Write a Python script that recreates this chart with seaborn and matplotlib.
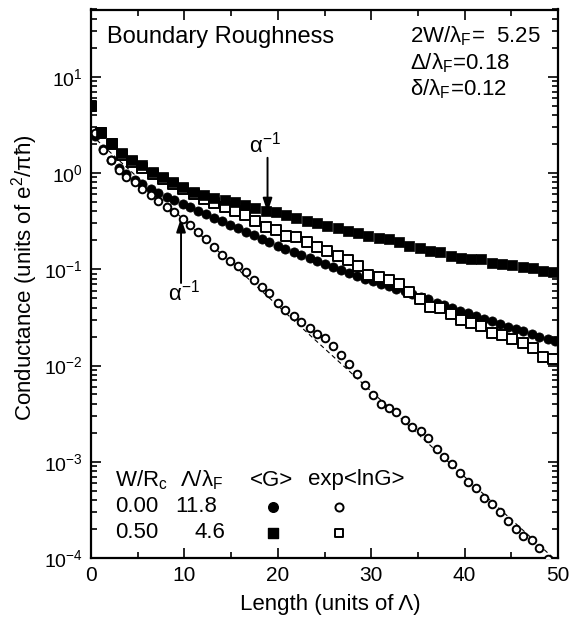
import numpy as np
import pandas as pd
import matplotlib
matplotlib.use("Agg")
import matplotlib.pyplot as plt
import seaborn as sns
from matplotlib.ticker import LogLocator, MultipleLocator, NullFormatter

# ---------------- data ----------------
L_circ = [0.4, 1.3, 2.1, 3.0, 3.8, 4.7, 5.5, 6.4, 7.2, 8.1, 8.9, 9.8, 10.6, 11.5,
          12.3, 13.2, 14.0, 14.9, 15.7, 16.6, 17.4, 18.3, 19.1, 20.0, 20.8, 21.7,
          22.5, 23.4, 24.2, 25.1, 25.9, 26.8, 27.6, 28.5, 29.3, 30.2, 31.0, 31.9,
          32.7, 33.6, 34.4, 35.3, 36.1, 37.0, 37.8, 38.7, 39.5, 40.4, 41.2, 42.1,
          42.9, 43.8, 44.6, 45.5, 46.3, 47.2, 48.0, 48.9, 49.7]

G_mean_w0 = [2.45, 1.78, 1.38, 1.12, 0.97, 0.85, 0.76, 0.68, 0.62, 0.57, 0.52, 0.475,
             0.44, 0.405, 0.375, 0.345, 0.315, 0.29, 0.268, 0.245, 0.225, 0.205, 0.19,
             0.173, 0.162, 0.151, 0.141, 0.131, 0.122, 0.114, 0.106, 0.099, 0.092,
             0.086, 0.080, 0.076, 0.070, 0.067, 0.062, 0.059, 0.055, 0.051, 0.049,
             0.045, 0.0428, 0.0398, 0.0372, 0.0350, 0.0330, 0.0307, 0.0290, 0.0270,
             0.0254, 0.0240, 0.0226, 0.0212, 0.0200, 0.0188, 0.0178]

G_log_w0 = [2.6, 1.75, 1.35, 1.08, 0.92, 0.81, 0.68, 0.59, 0.515, 0.445, 0.395, 0.335,
            0.285, 0.245, 0.205, 0.17, 0.142, 0.123, 0.108, 0.093, 0.078, 0.066, 0.056,
            0.045, 0.038, 0.0325, 0.0285, 0.0245, 0.0215, 0.0192, 0.0158, 0.013,
            0.0103, 0.0081, 0.0062, 0.0049, 0.0040, 0.0036, 0.0033, 0.0027, 0.0023,
            0.0021, 0.00175, 0.00135, 0.00112, 0.00094, 0.00077, 0.00062, 0.00054,
            0.00042, 0.00036, 0.00030, 0.000245, 0.00020, 0.00017, 0.000155,
            0.000128, 0.000098, 0.00008]

L_sq = [0.0, 1.1, 2.2, 3.3, 4.4, 5.5, 6.6, 7.7, 8.8, 9.9, 11.0, 12.1, 13.2, 14.3,
        15.4, 16.5, 17.6, 18.7, 19.8, 20.9, 22.0, 23.1, 24.2, 25.3, 26.4, 27.5,
        28.6, 29.7, 30.8, 31.9, 33.0, 34.1, 35.2, 36.3, 37.4, 38.5, 39.6, 40.7,
        41.8, 42.9, 44.0, 45.1, 46.2, 47.3, 48.4, 49.5]

G_mean_w05 = [5.0, 2.68, 2.06, 1.62, 1.37, 1.2, 1.03, 0.91, 0.81, 0.72, 0.64, 0.59,
              0.55, 0.525, 0.50, 0.47, 0.43, 0.40, 0.39, 0.368, 0.342, 0.318, 0.30,
              0.28, 0.27, 0.25, 0.24, 0.22, 0.21, 0.205, 0.193, 0.175, 0.166, 0.155,
              0.15, 0.138, 0.131, 0.128, 0.128, 0.117, 0.114, 0.112, 0.106, 0.103,
              0.096, 0.094]

G_log_w05 = [5.0, 2.6, 1.98, 1.55, 1.3, 1.12, 0.98, 0.87, 0.77, 0.68, 0.61, 0.54,
             0.49, 0.44, 0.40, 0.37, 0.32, 0.275, 0.257, 0.222, 0.217, 0.193, 0.171,
             0.155, 0.138, 0.126, 0.108, 0.087, 0.083, 0.078, 0.071, 0.058, 0.049,
             0.041, 0.040, 0.034, 0.0297, 0.0277, 0.0257, 0.0218, 0.0209, 0.019,
             0.0172, 0.0152, 0.0124, 0.0116]

fit_L = [0.0, 49.5]
fit_G = [2.5, 1.0e-4]

arrow_L = [18.9, 9.64]
arrow_tip = [0.39, 0.342]
arrow_tail = [1.44, 0.072]

# ---------------- style ----------------
sns.set_style("ticks")
plt.rcParams['font.family'] = ['Liberation Sans', 'DejaVu Sans']
plt.rcParams['mathtext.fontset'] = 'custom'
plt.rcParams['mathtext.rm'] = 'Liberation Sans'
plt.rcParams['mathtext.it'] = 'Liberation Sans:italic'
plt.rcParams['mathtext.bf'] = 'Liberation Sans:bold'
plt.rcParams['mathtext.default'] = 'regular'
for k in ['text.color', 'axes.labelcolor', 'xtick.color', 'ytick.color', 'axes.edgecolor']:
    plt.rcParams[k] = 'black'

fig = plt.figure(figsize=(5.81, 6.18), dpi=100)
ax = fig.add_axes([91/581, 1-558/618, (558-91)/581, (558-9.5)/618])

df_c = pd.DataFrame({"L": L_circ, "Gm": G_mean_w0, "Gl": G_log_w0})
df_s = pd.DataFrame({"L": L_sq, "Gm": G_mean_w05, "Gl": G_log_w05})

sns.lineplot(x=fit_L, y=fit_G, ax=ax, color='black', linewidth=0.8,
             linestyle=(0, (4, 3)), zorder=2)
sns.scatterplot(data=df_c, x="L", y="Gm", ax=ax, marker='o', s=44,
                color='black', edgecolor='black', linewidth=0.5, zorder=3)
sns.scatterplot(data=df_c, x="L", y="Gl", ax=ax, marker='o', s=30,
                color='white', edgecolor='black', linewidth=1.4, zorder=4)
sns.scatterplot(data=df_s, x="L", y="Gl", ax=ax, marker='s', s=42,
                color='white', edgecolor='black', linewidth=1.4, zorder=3)
sns.scatterplot(data=df_s, x="L", y="Gm", ax=ax, marker='s', s=50,
                color='black', edgecolor='black', linewidth=0.5, zorder=4)

ax.set_yscale('log')
ax.set_xlim(0, 50)
ax.set_ylim(1e-4, 50)

ax.xaxis.set_major_locator(MultipleLocator(10))
ax.xaxis.set_minor_locator(MultipleLocator(5))
ax.yaxis.set_major_locator(LogLocator(base=10, numticks=20))
ax.yaxis.set_minor_locator(LogLocator(base=10, subs=np.arange(2, 10), numticks=20))
ax.yaxis.set_minor_formatter(NullFormatter())

ax.tick_params(which='both', direction='in', top=True, right=True,
               width=1.2, colors='black', labelsize=15)
ax.tick_params(axis='y', labelsize=14)
ax.tick_params(which='major', length=7, pad=6)
ax.tick_params(which='minor', length=4)
for sp in ax.spines.values():
    sp.set_linewidth(1.6)
    sp.set_color('black')

ax.set_xlabel("Length (units of Λ)", fontsize=16)
ax.set_ylabel("Conductance (units of e$^{2}$/πħ)", fontsize=16)
ax.xaxis.set_label_coords(0.512, -0.066)
ax.yaxis.set_label_coords(-0.11, 0.51)

# arrows
for xa, tip, tail in zip(arrow_L, arrow_tip, arrow_tail):
    ax.annotate('', xy=(xa, tip), xytext=(xa, tail),
                arrowprops=dict(arrowstyle='-|>,head_length=0.6,head_width=0.2',
                                color='black', lw=1.4,
                                mutation_scale=14, shrinkA=0, shrinkB=0))
ax.text(18.6, 1.96, r'$\alpha^{-1}$', ha='center', va='center', fontsize=16)
ax.text(9.9, 0.057, r'$\alpha^{-1}$', ha='center', va='center', fontsize=16)

# annotations
ax.text(0.034, 0.95, "Boundary Roughness", transform=ax.transAxes,
        ha='left', va='center', fontsize=17)
ax.text(0.683, 0.952, "2W/λ$_F$=  5.25", transform=ax.transAxes,
        ha='left', va='center', fontsize=16)
ax.text(0.683, 0.903, "Δ/λ$_F$=0.18", transform=ax.transAxes,
        ha='left', va='center', fontsize=16)
ax.text(0.683, 0.854, "δ/λ$_F$=0.12", transform=ax.transAxes,
        ha='left', va='center', fontsize=16)

# legend table
def fx(px):
    return (px - 91) / 467
def fy(py):
    return (558 - py) / 548.5

hdr_y, r1_y, r2_y = fy(480), fy(507), fy(533)
ax.text(fx(115), hdr_y, "W/R$_c$", transform=ax.transAxes, ha='left', va='center', fontsize=16)
ax.text(fx(180), hdr_y, "Λ/λ$_F$", transform=ax.transAxes, ha='left', va='center', fontsize=16)
ax.text(fx(250), hdr_y, "<G>", transform=ax.transAxes, ha='left', va='center', fontsize=16)
ax.text(fx(308), hdr_y, "exp<lnG>", transform=ax.transAxes, ha='left', va='center', fontsize=16)
ax.text(fx(115), r1_y, "0.00", transform=ax.transAxes, ha='left', va='center', fontsize=16)
ax.text(fx(217), r1_y, "11.8", transform=ax.transAxes, ha='right', va='center', fontsize=16)
ax.text(fx(115), r2_y, "0.50", transform=ax.transAxes, ha='left', va='center', fontsize=16)
ax.text(fx(225), r2_y, "4.6", transform=ax.transAxes, ha='right', va='center', fontsize=16)
ax.scatter([fx(273)], [r1_y], transform=ax.transAxes, marker='o', s=48, color='black', clip_on=False)
ax.scatter([fx(339)], [r1_y], transform=ax.transAxes, marker='o', s=34, facecolor='white',
           edgecolor='black', linewidth=1.4, clip_on=False)
ax.scatter([fx(273)], [r2_y], transform=ax.transAxes, marker='s', s=50, color='black', clip_on=False)
ax.scatter([fx(339)], [r2_y], transform=ax.transAxes, marker='s', s=40, facecolor='white',
           edgecolor='black', linewidth=1.4, clip_on=False)

fig.savefig("out.png", dpi=100)
